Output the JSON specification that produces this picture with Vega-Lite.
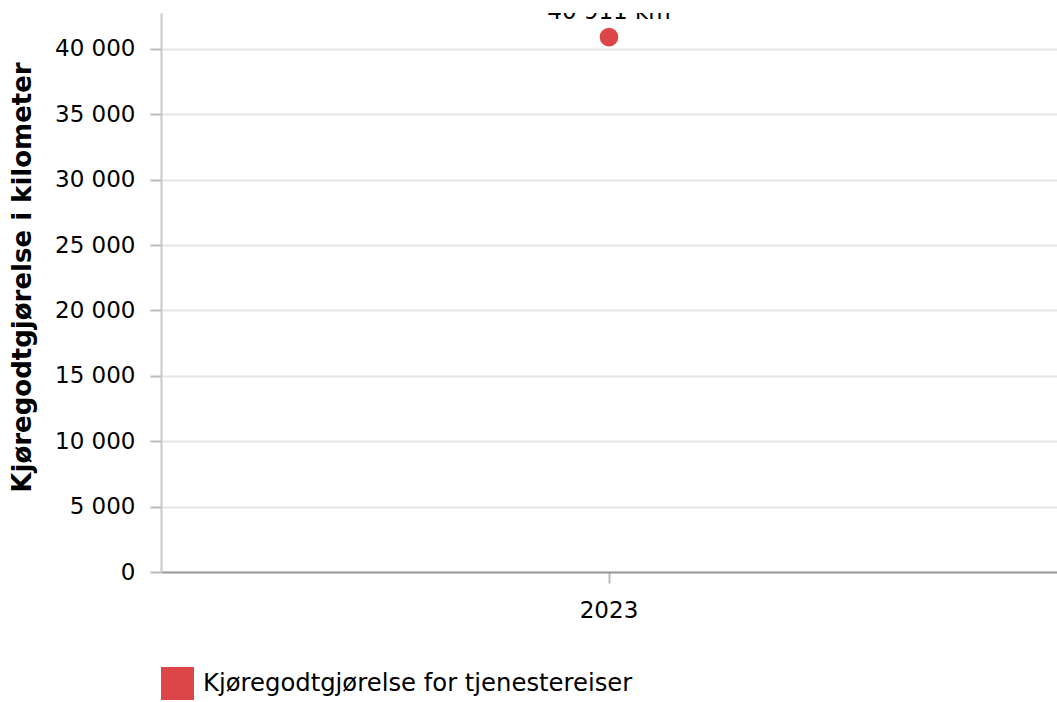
{
  "$schema": "https://vega.github.io/schema/vega-lite/v6.json",
  "autosize": "none",
  "padding": {"left": 161, "top": 13, "right": 0, "bottom": 130},
  "width": 896,
  "height": 559,
  "background": "white",
  "config": {"font": "DejaVu Sans", "view": {"stroke": null}},
  "data": {"values": [
    {"year": "2023", "km": 40911, "serie": "Kjøregodtgjørelse for tjenestereiser", "label": "40 911 km"}
  ]},
  "encoding": {
    "x": {
      "field": "year", "type": "ordinal",
      "scale": {"type": "band", "paddingInner": 0, "paddingOuter": 0},
      "axis": {"title": null, "labelAngle": 0, "labelFontSize": 23, "labelColor": "#000", "labelPadding": 16,
               "domainColor": "#999", "domainWidth": 2, "tickColor": "#bbb", "tickWidth": 2, "tickSize": 11, "grid": false}
    },
    "y": {
      "field": "km", "type": "quantitative",
      "scale": {"domain": [0, 42753], "nice": false, "zero": true},
      "axis": {"title": "Kjøregodtgjørelse i kilometer", "titleFontSize": 26, "titleFontWeight": "bold", "titleColor": "#000", "titlePadding": 19,
               "titleY": 264,
               "values": [0, 5000, 10000, 15000, 20000, 25000, 30000, 35000, 40000],
               "labelExpr": "replace(format(datum.value, ','), ',', ' ')",
               "labelFontSize": 23, "labelColor": "#000", "labelPadding": 15,
               "grid": true, "gridColor": "#e6e6e6", "gridWidth": 2,
               "domainColor": "#c8c8c8", "domainWidth": 2, "tickColor": "#bbb", "tickWidth": 2, "tickSize": 11}
    }
  },
  "layer": [
    {
      "mark": {"type": "point", "filled": true, "size": 346, "opacity": 1},
      "encoding": {
        "color": {"field": "serie", "type": "nominal", "scale": {"range": ["#dc4649"]},
                  "legend": {"title": null, "orient": "none", "legendX": 0, "legendY": 654, "symbolType": "square",
                             "symbolSize": 1089, "symbolStrokeWidth": 0, "symbolOpacity": 1, "labelFontSize": 24.3,
                             "labelColor": "#000", "labelOffset": 9, "labelLimit": 800, "padding": 0}}
      }
    },
    {
      "mark": {"type": "text", "clip": true, "fontSize": 23, "dy": -18, "baseline": "alphabetic", "color": "#000"},
      "encoding": {"text": {"field": "label"}}
    }
  ]
}
